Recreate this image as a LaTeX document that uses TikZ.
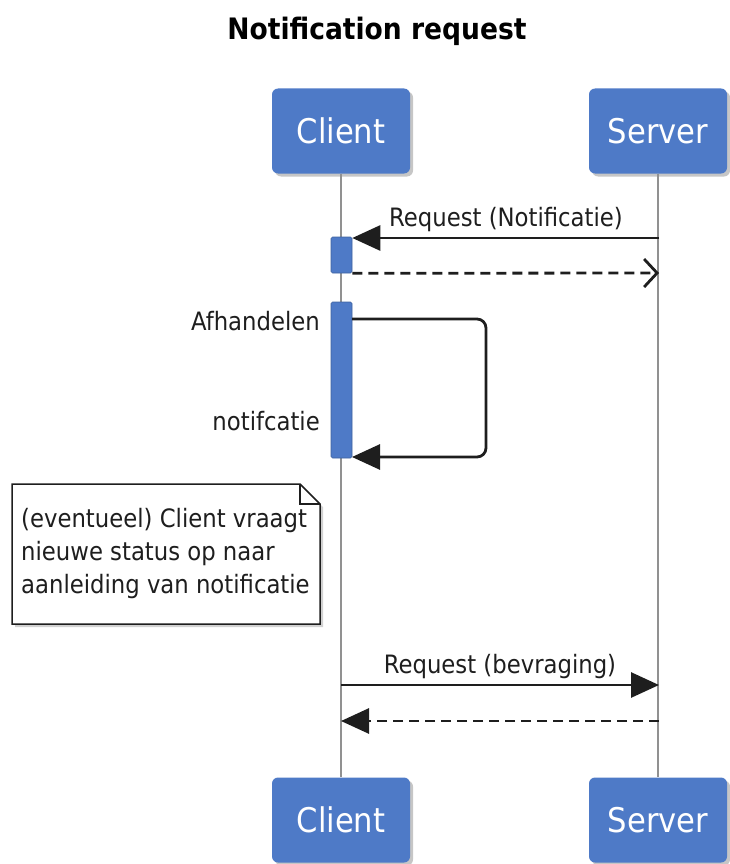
\documentclass[tikz,border=0pt]{standalone}
\usepackage{fontspec}
\setmainfont{DejaVu Sans Condensed}
\usepackage{xcolor}
\usepackage{tikz}
\usetikzlibrary{arrows.meta, shadows, positioning}

\definecolor{boxblue}{RGB}{78,122,199}
\definecolor{lifegray}{RGB}{145,145,145}
\definecolor{inkgray}{RGB}{30,30,30}

\begin{document}
\begin{tikzpicture}[x=1pt, y=-1pt,
    participant/.style={fill=boxblue, rounded corners=6pt, minimum width=138pt,
        minimum height=85pt, text=white, font=\fontsize{34}{38}\selectfont,
        drop shadow={shadow xshift=3pt, shadow yshift=-3pt, opacity=0.45}},
    activation/.style={fill=boxblue, draw=boxblue!80!black, line width=0.6pt,
        rounded corners=1.5pt, minimum width=21pt, inner sep=0pt},
    lifeline/.style={draw=lifegray, line width=2.5pt},
    msg/.style={draw=inkgray, line width=2.8pt, -{Triangle[length=28pt, width=25pt]}},
    reply/.style={msg, dash pattern=on 10pt off 6pt},
    openreply/.style={draw=inkgray, line width=2.8pt, dash pattern=on 10pt off 6pt,
        -{Straight Barb[length=13pt, width=28pt, line width=2.8pt]}},
    msglabel/.style={text=inkgray, font=\fontsize{25.3}{29}\selectfont, inner sep=1pt},
    notebox/.style={text=inkgray, font=\fontsize{25.3}{33}\selectfont, align=left,
        inner sep=0pt}]

    \useasboundingbox (0,0) rectangle (729,864);

    % -------------------------
    % Title
    % -------------------------
    \node[text=black, font=\fontsize{29.5}{33}\selectfont\bfseries] (title) at (377,31) {Notification request};

    % -------------------------
    % Participants
    % -------------------------
    \node[participant] (client)  at (341,131) {Client};
    \node[participant] (server)  at (658,131) {Server};
    \node[participant] (clientb) at (341,820) {Client};
    \node[participant] (serverb) at (658,820) {Server};

    % lifelines
    \draw[lifeline] (client.south) -- (clientb.north);
    \draw[lifeline] (server.south) -- (serverb.north);

    % -------------------------
    % Activations
    % -------------------------
    \node[activation, minimum height=36pt]  (act1) at (341.5,255) {};
    \node[activation, minimum height=156pt] (act2) at (341.5,380) {};

    % points on the lifelines
    \coordinate (s1) at (659,238);
    \coordinate (s2) at (659,273);
    \coordinate (a2top) at (352,319);
    \coordinate (a2bot) at (352,457);
    \coordinate (turn1) at (486,319);
    \coordinate (turn2) at (486,457);
    \coordinate (c3) at (341,685);
    \coordinate (s3) at (659,685);
    \coordinate (s4) at (659,721);
    \coordinate (c4) at (341,721);

    % -------------------------
    % Messages
    % -------------------------
    \draw[msg] (s1) -- (act1.north east |- s1);
    \node[msglabel] (lbl1) at (506,220) {Request (Notificatie)};

    \draw[openreply] (act1.south east) -- (s2);

    % self message
    \draw[msg, rounded corners=9pt] (a2top) -- (turn1) -- (turn2) -- (a2bot);
    \node[msglabel, anchor=east] (lbl2) at (321,321) {Afhandelen};
    \node[msglabel, anchor=east] (lbl3) at (321,421) {notifcatie};

    % -------------------------
    % Note
    % -------------------------
    \fill[lifegray!70, opacity=0.6] (15,487) -- (303,487) -- (323,507) -- (323,627) -- (15,627) -- cycle;
    \draw[fill=white, draw=inkgray, line width=1.5pt] (12,484) -- (300,484) -- (320,504) -- (320,624) -- (12,624) -- cycle;
    \draw[draw=inkgray, line width=1.2pt] (300,484) -- (300,504) -- (320,504);
    \node[notebox, anchor=north west] (note) at (21,508)
        {(eventueel) Client vraagt\\nieuwe status op naar\\aanleiding van notificatie};

    % -------------------------
    % Second request
    % -------------------------
    \draw[msg] (c3) -- (s3);
    \node[msglabel] (lbl4) at (500,667) {Request (bevraging)};

    \draw[reply] (s4) -- (c4);

\end{tikzpicture}
\end{document}
